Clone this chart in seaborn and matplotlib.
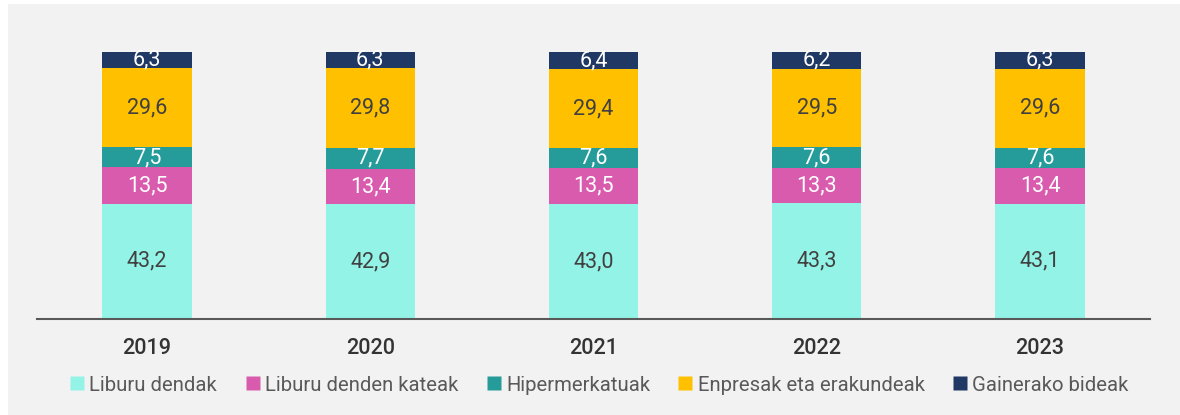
import matplotlib
matplotlib.use("Agg")
import matplotlib.pyplot as plt
import seaborn as sns
import pandas as pd
from matplotlib.patches import Rectangle
from matplotlib.lines import Line2D

# data
years = ["2019", "2020", "2021", "2022", "2023"]
series = ["Liburu dendak", "Liburu denden kateak", "Hipermerkatuak",
          "Enpresak eta erakundeak", "Gainerako bideak"]
liburu_dendak = [43.2, 42.9, 43.0, 43.3, 43.1]
kateak = [13.5, 13.4, 13.5, 13.3, 13.4]
hiper = [7.5, 7.7, 7.6, 7.6, 7.6]
enpresak = [29.6, 29.8, 29.4, 29.5, 29.6]
gainerako = [6.3, 6.3, 6.4, 6.2, 6.3]

colors = ["#93F3E6", "#D95BAE", "#259C9A", "#FFC000", "#1F3864"]
text_colors = ["#404040", "white", "white", "#404040", "white"]

df = pd.DataFrame({"year": years, series[0]: liburu_dendak, series[1]: kateak,
                   series[2]: hiper, series[3]: enpresak, series[4]: gainerako})
cum = df[series].cumsum(axis=1)

sns.set_style("white")
plt.rcParams["font.family"] = ["Roboto", "DejaVu Sans"]

fig = plt.figure(figsize=(11.8, 4.15), dpi=100)
fig.patch.set_facecolor("white")
fig.patches.append(Rectangle((8 / 1180, 0), 1, 1 - 4 / 415, transform=fig.transFigure,
                             facecolor="#F2F2F2", edgecolor="none", zorder=-10))

ax = fig.add_axes([37 / 1180, 1 - 319 / 415, (1150 - 37) / 1180, 268 / 415])
ax.set_facecolor("none")

# stacked bars, drawn from the top layer down
for i in range(len(series) - 1, -1, -1):
    sns.barplot(x=df["year"], y=cum[series[i]], color=colors[i], width=0.4,
                saturation=1, ax=ax, edgecolor="none", linewidth=0)

# value labels
for i, s in enumerate(series):
    for j in range(len(years)):
        val = df[s][j]
        mid = cum[s][j] - val / 2
        ax.text(j, mid, f"{val:.1f}".replace(".", ","), ha="center", va="center",
                fontsize=15.5, color=text_colors[i])

ax.set_xlim(-0.493, 4.493)
ax.set_ylim(0, 100.3)
ax.set_xlabel("")
ax.set_ylabel("")
ax.set_yticks([])
for sp in ["top", "right", "left"]:
    ax.spines[sp].set_visible(False)
ax.spines["bottom"].set_color("#595959")
ax.spines["bottom"].set_linewidth(1.5)
ax.tick_params(axis="x", length=0, pad=14, labelsize=15.5, labelcolor="#333333")
for lbl in ax.get_xticklabels():
    lbl.set_fontweight("medium")

handles = [Line2D([], [], marker="s", linestyle="none", markersize=10,
                  markerfacecolor=c, markeredgecolor="none") for c in colors]
fig.legend(handles, series, loc="center", bbox_to_anchor=(0.508, 1 - 385 / 415),
           ncol=5, frameon=False, fontsize=14.6, labelcolor="#595959",
           handletextpad=0.25, columnspacing=1.4, handlelength=0.7)

fig.savefig("out.png", dpi=100)
